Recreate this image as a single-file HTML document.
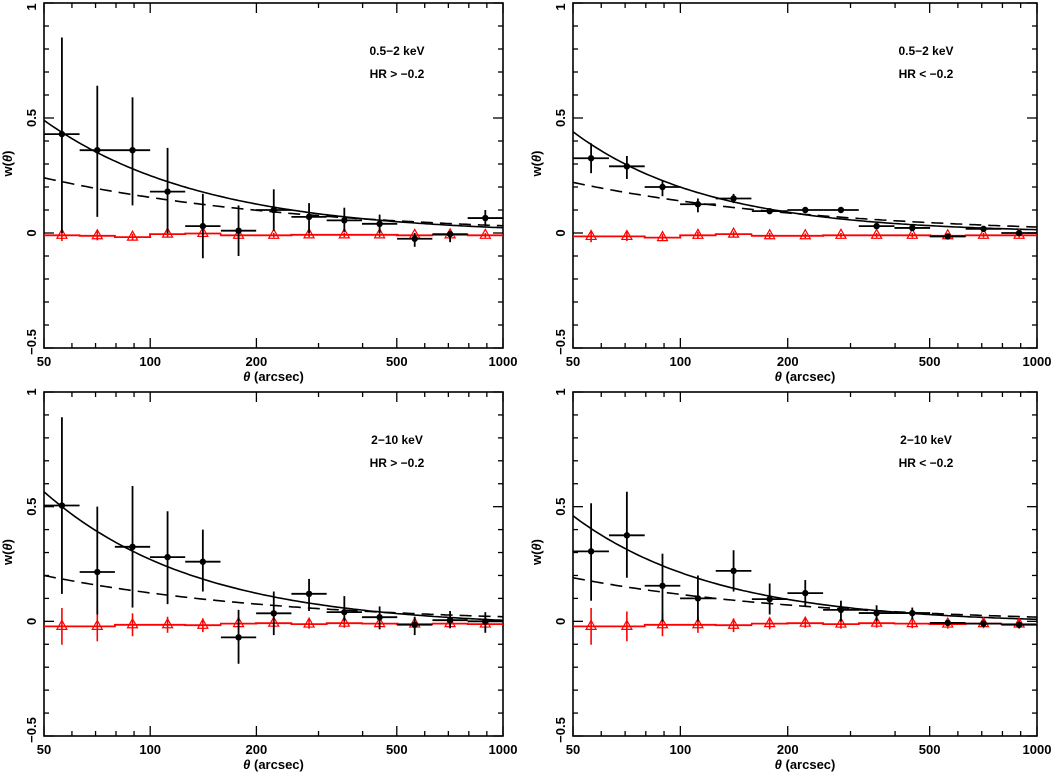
<!DOCTYPE html>
<html><head><meta charset="utf-8">
<style>
html,body{margin:0;padding:0;background:#fff;}
svg{display:block;font-family:"Liberation Sans",sans-serif;font-weight:bold;}
</style></head>
<body>
<svg id="chart" width="1054" height="773" viewBox="0 0 1054 773" xmlns="http://www.w3.org/2000/svg"></svg>
<script>
// ---- data ----
const thetaBins = [56.2,70.8,89.1,112,141,178,224,282,355,447,562,708,891];
const xTicksMajor = [50,100,200,500,1000];
const xTickLabels = ["50","100","200","500","1000"];
const xTicksMinor = [60,70,80,90,300,400,600,700,800,900];
const yTickLabels = ["−0.5","0","0.5","1"];
const yTickValues = [-0.5,0,0.5,1];
const panelTitles = ["0.5−2 keV","0.5−2 keV","2−10 keV","2−10 keV"];
const panelHR = ["HR > −0.2","HR < −0.2","HR > −0.2","HR < −0.2"];

const wTL = [0.43,0.36,0.36,0.18,0.03,0.01,0.10,0.07,0.055,0.04,-0.025,-0.005,0.065];
const hiTL = [0.85,0.64,0.59,0.37,0.17,0.12,0.19,0.13,0.11,0.08,0.0,0.01,0.10];
const loTL = [0.0,0.07,0.12,0.0,-0.11,-0.10,0.01,0.0,0.005,0.0,-0.06,-0.04,0.03];
const wTR = [0.325,0.29,0.2,0.125,0.15,0.095,0.10,0.10,0.03,0.022,-0.015,0.018,0.0];
const hiTR = [0.39,0.335,0.23,0.15,0.17,0.105,0.11,0.11,0.035,0.027,-0.01,0.022,0.005];
const loTR = [0.26,0.235,0.16,0.09,0.13,0.085,0.09,0.09,0.025,0.017,-0.02,0.014,-0.005];
const wBL = [0.505,0.215,0.325,0.28,0.26,-0.07,0.035,0.12,0.04,0.018,-0.015,0.005,0.0];
const hiBL = [0.89,0.50,0.59,0.48,0.40,0.05,0.13,0.185,0.11,0.065,0.02,0.045,0.04];
const loBL = [0.12,0.03,0.06,0.075,0.13,-0.185,-0.06,0.045,0.0,-0.035,-0.06,-0.03,-0.05];
const wBR = [0.305,0.375,0.155,0.10,0.22,0.097,0.123,0.05,0.036,0.036,-0.007,-0.01,-0.015];
const hiBR = [0.515,0.565,0.295,0.2,0.31,0.165,0.18,0.09,0.07,0.06,0.005,0.0,0.0];
const loBR = [0.09,0.19,0.0,0.0,0.13,0.03,0.065,0.0,0.0,0.01,-0.02,-0.025,-0.03];

const rTL = [-0.01,-0.012,-0.018,-0.005,-0.002,-0.01,-0.01,-0.008,-0.008,-0.008,-0.01,-0.008,-0.01];
const rTR = [-0.015,-0.015,-0.02,-0.01,-0.005,-0.012,-0.012,-0.01,-0.01,-0.01,-0.012,-0.01,-0.01];
const rBL = [-0.022,-0.022,-0.015,-0.015,-0.017,-0.01,-0.008,-0.012,-0.008,-0.01,-0.012,-0.01,-0.012];
const rBR = [-0.022,-0.022,-0.015,-0.015,-0.017,-0.01,-0.008,-0.012,-0.008,-0.01,-0.012,-0.01,-0.012];
const reTL = [0.025,0.02,0.015,0.015,0.012,0.012,0.01,0.01,0.01,0.01,0.01,0.01,0.01];
const reBL = [0.08,0.065,0.05,0.035,0.03,0.025,0.02,0.02,0.02,0.02,0.02,0.02,0.02];

// model power laws: w = a*(theta/50)^-g - c
const solidA = [0.495,0.44,0.59,0.47];
const solidG = [0.96,1.14,1.0,1.076];
const solidC = [0.005,0.0,0.025,0.01];
const dashA = [0.25,0.23,0.21,0.2];
const dashG = [0.6,0.62,0.65,0.65];
const dashC = [0.01,0.01,0.01,0.01];

const panelW = [wTL,wTR,wBL,wBR];
const panelHi = [hiTL,hiTR,hiBL,hiBR];
const panelLo = [loTL,loTR,loBL,loBR];
const panelR = [rTL,rTR,rBL,rBR];
const panelRE = [reTL,reTL,reBL,reBL];

// ---- layout ----
const frames = [
  {x0:44,x1:503,y1:3,y0:348},
  {x0:573,x1:1037,y1:3,y0:348},
  {x0:44,x1:503,y1:392,y0:736},
  {x0:573,x1:1037,y1:392,y0:736}
];
const names = ["soft-hard-hr","soft-soft-hr","hard-hard-hr","hard-soft-hr"];
const NS="http://www.w3.org/2000/svg";
const svg=document.getElementById('chart');
function mk(tag,attrs,parent){const e=document.createElementNS(NS,tag);for(const k in attrs)e.setAttribute(k,attrs[k]);(parent||svg).appendChild(e);return e;}

frames.forEach((f,p)=>{
  const g=mk('g',{});
  
  
  const X=t=>f.x0+(f.x1-f.x0)*Math.log10(t/50)/Math.log10(20);
  const Y=v=>f.y0+(f.y1-f.y0)*(v+0.5)/1.5;
  // frame
  const fr=mk('rect',{x:f.x0,y:f.y1,width:f.x1-f.x0,height:f.y0-f.y1,fill:'none',stroke:'#000','stroke-width':1.6},g);
  
  
  // x ticks
  xTicksMajor.forEach(t=>{const x=X(t);
    mk('line',{x1:x,x2:x,y1:f.y0,y2:f.y0-10,stroke:'#000','stroke-width':1.3},g);
    mk('line',{x1:x,x2:x,y1:f.y1,y2:f.y1+10,stroke:'#000','stroke-width':1.3},g);});
  xTicksMinor.forEach(t=>{const x=X(t);
    mk('line',{x1:x,x2:x,y1:f.y0,y2:f.y0-5,stroke:'#000','stroke-width':1.3},g);
    mk('line',{x1:x,x2:x,y1:f.y1,y2:f.y1+5,stroke:'#000','stroke-width':1.3},g);});
  xTickLabels.forEach((lab,i)=>{
    const t=mk('text',{x:X(xTicksMajor[i]),y:f.y0+18,'text-anchor':'middle','font-size':13},g);
    t.textContent=lab;
    
    
  });
  // y ticks
  for(let k=-5;k<=10;k++){const v=k/10,y=Y(v),L=(k%5===0)?10:5;
    mk('line',{x1:f.x0,x2:f.x0+L,y1:y,y2:y,stroke:'#000','stroke-width':1.3},g);
    mk('line',{x1:f.x1,x2:f.x1-L,y1:y,y2:y,stroke:'#000','stroke-width':1.3},g);}
  yTickLabels.forEach((lab,i)=>{
    let y=Math.min(Math.max(Y(yTickValues[i]),7),f.y0-6);
    const t=mk('text',{x:0,y:0,'text-anchor':'middle','font-size':13,transform:`translate(${f.x0-8},${y}) rotate(-90)`},g);
    t.textContent=lab;
    
    
  });
  const xt=mk('text',{x:(f.x0+f.x1)/2,y:f.y0+33,'text-anchor':'middle','font-size':13},g);
  xt.innerHTML='<tspan font-style="italic">θ</tspan> (arcsec)';
  
  
  const yt=mk('text',{x:0,y:0,'text-anchor':'middle','font-size':13,transform:`translate(${f.x0-32},${(f.y0+f.y1)/2-12}) rotate(-90)`},g);
  yt.innerHTML='w(<tspan font-style="italic">θ</tspan>)';
  
  
  const a1=mk('text',{x:f.x0+353,y:f.y1+52,'text-anchor':'middle','font-size':12},g);
  a1.textContent=panelTitles[p];
  
  
  const a2=mk('text',{x:f.x0+353,y:f.y1+75,'text-anchor':'middle','font-size':12},g);
  a2.textContent=panelHR[p];
  
  
  // clip
  const cp=mk('clipPath',{id:'cp'+p},g);
  mk('rect',{x:f.x0,y:f.y1,width:f.x1-f.x0,height:f.y0-f.y1},cp);
  const inner=mk('g',{'clip-path':`url(#cp${p})`},g);
  // models
  let ds='',dd='';
  for(let i=0;i<=120;i++){const t=50*Math.pow(20,i/120);
    const s=solidA[p]*Math.pow(t/50,-solidG[p])-solidC[p];
    const d=dashA[p]*Math.pow(t/50,-dashG[p])-dashC[p];
    ds+=(i?'L':'M')+X(t).toFixed(1)+','+Y(s).toFixed(1);
    dd+=(i?'L':'M')+X(t).toFixed(1)+','+Y(d).toFixed(1);}
  const sl=mk('path',{d:ds,fill:'none',stroke:'#000','stroke-width':1.6},inner);
  
  
  const dl=mk('path',{d:dd,fill:'none',stroke:'#000','stroke-width':1.6,'stroke-dasharray':'12,7'},inner);
  
  
  // red step line
  const rv=panelR[p];let rp='';
  thetaBins.forEach((t,i)=>{const xa=i===0?f.x0:X(t/Math.pow(10,0.05)),xb=i===thetaBins.length-1?f.x1:X(t*Math.pow(10,0.05));
    rp+=(i?'L':'M')+xa.toFixed(1)+','+Y(rv[i]).toFixed(1)+'L'+xb.toFixed(1)+','+Y(rv[i]).toFixed(1);});
  const rl=mk('path',{d:rp,fill:'none',stroke:'#f00','stroke-width':1.8},inner);
  
  
  // red points
  thetaBins.forEach((t,i)=>{const x=X(t),y=Y(rv[i]),e=panelRE[p][i];
    const rg=mk('g',{},inner);
    
    
    mk('line',{x1:x,x2:x,y1:Y(rv[i]+e),y2:Y(rv[i]-e),stroke:'#f00','stroke-width':1.6},rg);
    mk('path',{d:`M${x},${y-6}L${x+5},${y+3}L${x-5},${y+3}Z`,fill:'none',stroke:'#f00','stroke-width':1.2},rg);
  });
  // black points
  const w=panelW[p],hi=panelHi[p],lo=panelLo[p];
  thetaBins.forEach((t,i)=>{const x=X(t),y=Y(w[i]);
    const bg=mk('g',{},inner);
    
    
    mk('line',{x1:x,x2:x,y1:Y(hi[i]),y2:Y(lo[i]),stroke:'#000','stroke-width':1.8},bg);
    mk('line',{x1:X(t/Math.pow(10,0.05)),x2:X(t*Math.pow(10,0.05)),y1:y,y2:y,stroke:'#000','stroke-width':1.8},bg);
    mk('circle',{cx:x,cy:y,r:3.2,fill:'#000'},bg);
  });
});
</script>
</body></html>
